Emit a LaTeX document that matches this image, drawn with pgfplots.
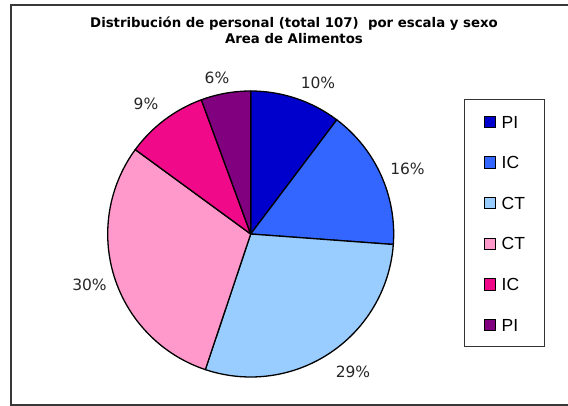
\documentclass[border=0pt]{standalone}
\usepackage{pgfplots}
\pgfplotsset{compat=1.18}
\usepackage{pgfplotstable}
\usepackage{fontspec}
\setmainfont{DejaVu Sans}
\newfontfamily\legfont{Liberation Sans}

\definecolor{cPIa}{HTML}{0000CC}
\definecolor{cICa}{HTML}{3366FF}
\definecolor{cCTa}{HTML}{99CCFF}
\definecolor{cCTb}{HTML}{FF99CC}
\definecolor{cICb}{HTML}{F00A8A}
\definecolor{cPIb}{HTML}{800080}

% count of staff per slice (total 107); label position (px) of the percentage
\pgfplotstableread{
label count col lx ly
PI 11 cPIa 318 82.5
IC 17 cICa 407.5 169
CT 31 cCTa 353 371.7
CT 32 cCTb 89.5 285
IC 10 cICb 146 104
PI 6 cPIb 217 77.5
}\piedata

\def\pzTotal{107}
\def\pzCx{250.7}
\def\pzCy{234}
\def\pzRad{143}

\tikzset{
  pzpct/.style={font=\fontsize{15.5}{18}\selectfont, text=black!85, inner sep=0pt},
  pzsq/.style={draw=black, line width=0.9pt, minimum size=11.5pt, inner sep=0pt},
  pztxt/.style={font=\legfont\fontsize{17.5}{20}\selectfont, anchor=west, inner sep=0pt},
}

\begin{document}
\begin{tikzpicture}
\useasboundingbox (0,0) rectangle (568pt,406pt);
\begin{axis}[at={(0,0)}, anchor=south west, scale only axis,
  width=568pt, height=406pt, xmin=0, xmax=568, ymin=0, ymax=406,
  y dir=reverse, axis lines=none, clip=false]
\draw[line width=2pt, color=black!78] (axis cs:590,4.7) -- (axis cs:10.5,4.7) -- (axis cs:10.5,404.5) -- (axis cs:590,404.5);
\node[anchor=base, font=\bfseries\fontsize{13.3}{15}\selectfont, inner sep=0pt] at (axis cs:294,27.8) {Distribución de personal (total 107)\ \ por escala y sexo};
\node[anchor=base, font=\bfseries\fontsize{13.3}{15}\selectfont, inner sep=0pt] at (axis cs:294,43.5) {Area de Alimentos};
\draw[line width=1pt, color=black!80] (axis cs:464.3,100) rectangle (axis cs:544,346.7);
\xdef\pzCum{90}
\pgfplotsinvokeforeach{0,1,2,3,4,5}{%
  \pgfplotstablegetelem{#1}{count}\of\piedata \edef\pzCnt{\pgfplotsretval}%
  \pgfplotstablegetelem{#1}{col}\of\piedata \edef\pzClr{\pgfplotsretval}%
  \pgfplotstablegetelem{#1}{label}\of\piedata \edef\pzLab{\pgfplotsretval}%
  \pgfplotstablegetelem{#1}{lx}\of\piedata \edef\pzLx{\pgfplotsretval}%
  \pgfplotstablegetelem{#1}{ly}\of\piedata \edef\pzLy{\pgfplotsretval}%
  \pgfmathsetmacro\pzA{\pzCum}%
  \pgfmathsetmacro\pzB{\pzCum-360*\pzCnt/\pzTotal}%
  \pgfmathtruncatemacro\pzPct{round(100*\pzCnt/\pzTotal)}%
  \pgfmathsetmacro\pzLegY{122+40.6*#1}%
  \edef\pzCmd{%
    \noexpand\filldraw[fill=\pzClr,draw=black,line width=1.3pt,line join=round]
      (axis cs:\pzCx,\pzCy) -- ++(\pzA:\pzRad pt) arc[start angle=\pzA,end angle=\pzB,radius=\pzRad pt] -- cycle;
    \noexpand\node[pzpct] at (axis cs:\pzLx,\pzLy) {\pzPct\noexpand\%};
    \noexpand\node[pzsq,fill=\pzClr] at (axis cs:490,\pzLegY) {};
    \noexpand\node[pztxt] at (axis cs:501.5,\pzLegY) {\pzLab};
  }%
  \pzCmd
  \xdef\pzCum{\pzB}%
}
\end{axis}
\end{tikzpicture}
\end{document}
